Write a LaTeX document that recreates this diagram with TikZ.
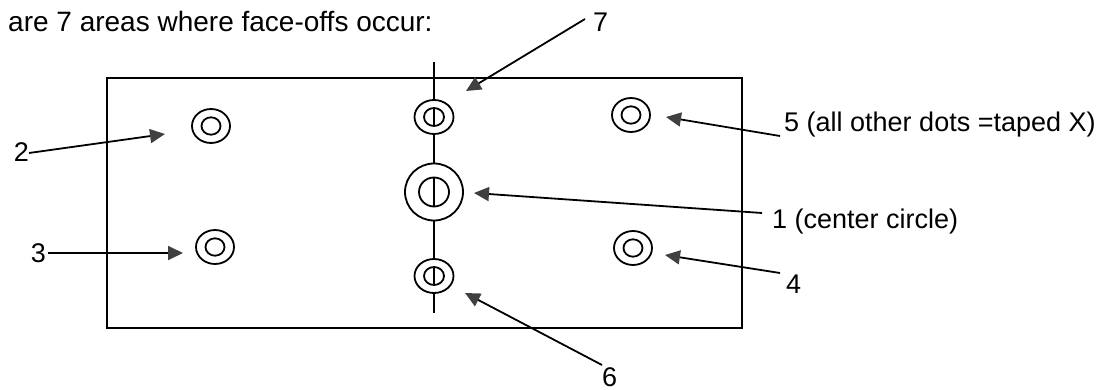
\documentclass[tikz,border=0pt]{standalone}
\usepackage{fontspec}
\setmainfont{Liberation Sans}
\usetikzlibrary{arrows.meta}
\begin{document}
\begin{tikzpicture}[x=1pt,y=-1pt,
  ln/.style={line width=1.8pt,black},
  pointer/.style={line width=1.8pt,black,-{Triangle[length=15pt,width=14pt,color=black!75]}},
  lbl/.style={inner sep=0pt,anchor=base west,font=\fontsize{27}{30}\selectfont},
  ttl/.style={inner sep=0pt,anchor=base west,font=\fontsize{28}{32}\selectfont}]
\useasboundingbox (0,0) rectangle (1105,390);
% title
\node[ttl] (title) at (8,32) {are 7 areas where face-offs occur:};
% rink
\draw[ln] (107,78) rectangle (742,328);
% dot centres
\coordinate (ctop) at (434,117);
\coordinate (cmid) at (434,192);
\coordinate (cbot) at (434,276);
\coordinate (d2) at (211,126);
\coordinate (d3) at (215,247);
\coordinate (d5) at (631,115);
\coordinate (d4) at (633,248);
% centre line segments
\draw[ln] (434,62) -- (434,100);
\draw[ln] (434,134) -- (434,163.5);
\draw[ln] (434,220.5) -- (434,259);
\draw[ln] (434,293) -- (434,313);
% centre dots
\foreach \c in {ctop,cbot}{
  \draw[ln] (\c) ellipse [x radius=19.5,y radius=17];
  \draw[ln] (\c) ellipse [x radius=10,y radius=9];
  \draw[ln] ([yshift=-9]\c) -- ([yshift=9]\c);
}
\draw[ln] (cmid) ellipse [x radius=29,y radius=28.5];
\draw[ln] (cmid) ellipse [x radius=15,y radius=14.5];
\draw[ln] ([yshift=-14.5]cmid) -- ([yshift=14.5]cmid);
% other dots
\foreach \c in {d2,d3,d5,d4}{
  \draw[ln] (\c) ellipse [x radius=19,y radius=17];
  \draw[ln] (\c) ellipse [x radius=9.5,y radius=8.7];
}
% labels
\node[lbl,anchor=base east] (l2) at (29,162) {2};
\node[lbl,anchor=base east] (l3) at (46,262) {3};
\node[lbl] (l7) at (593,32) {7};
\node[lbl] (l1) at (772,228) {1 (center circle)};
\node[lbl] (l5) at (784,132) {5 (all other dots =taped X)};
\node[lbl] (l4) at (786,293) {4};
\node[lbl] (l6) at (602,386) {6};
% arrow ends
\coordinate (s2) at (29,153);   \coordinate (t2) at (165,134);
\coordinate (s3) at (48,253);   \coordinate (t3) at (183,253);
\coordinate (s7) at (585,19);   \coordinate (t7) at (466,91);
\coordinate (s1) at (762,213);  \coordinate (t1) at (474,193);
\coordinate (s5) at (780,136);  \coordinate (t5) at (666,117);
\coordinate (s4) at (780,273);  \coordinate (t4) at (665,255);
\coordinate (s6) at (602,365);  \coordinate (t6) at (465,293);
\foreach \n in {2,3,7,1,5,4,6}{
  \draw[pointer] (s\n) -- (t\n);
}
\end{tikzpicture}
\end{document}
